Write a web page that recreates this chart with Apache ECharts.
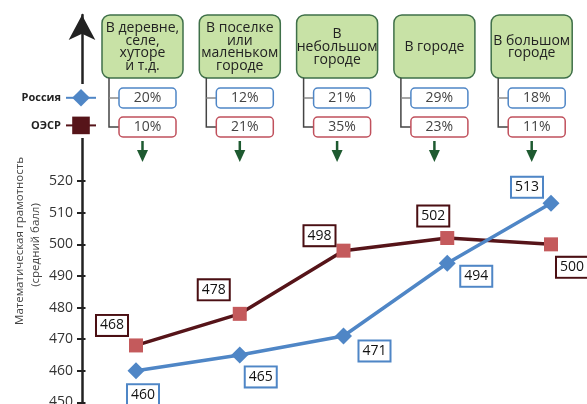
<!DOCTYPE html>
<html><head><meta charset="utf-8">
<script src="https://cdn.jsdelivr.net/npm/echarts@6/dist/echarts.min.js"></script>
<style>html,body{margin:0;padding:0;background:#fff}#c{width:587px;height:404px}</style>
</head><body><div id="c"></div>
<script>
// ---- data ----
const categories = ['В деревне,\nселе,\nхуторе\nи т.д.', 'В поселке\nили\nмаленьком\nгороде', 'В\nнебольшом\nгороде', 'В городе', 'В большом\nгороде'];
const seriesNames = ['Россия', 'ОЭСР'];
const russiaScores = [460, 465, 471, 494, 513];
const oecdScores = [468, 478, 498, 502, 500];
const russiaShares = [20, 12, 21, 29, 18];
const oecdShares = [10, 21, 35, 23, 11];
const yTicks = [450, 460, 470, 480, 490, 500, 510, 520];
const yTitle = ['Математическая грамотность', '(средний балл)'];

// ---- layout / style (not data) ----
const FONT = 'Open Sans';
const BLUE = '#4f86c6', MAROON = '#561419', RED = '#c45a5c';
const ruLabelOffset = [[7, 24], [21, 22], [31, 15], [29, 13], [-24, -16]];
const oeLabelOffset = [[-24, -20], [-26, -24], [-24, -15], [-14, -22], [21, 23]];

const graphics = [];
// gap in axis behind legend
graphics.push({type: 'rect', z: 3, shape: {x: 72, y: 84, width: 20, height: 54}, style: {fill: '#fff'}});
// y axis title
graphics.push({type: 'text', x: 20, y: 241, rotation: Math.PI / 2, z: 5,
  style: {text: yTitle[0], font: '11.5px "' + FONT + '"', fill: '#444', textAlign: 'center', textVerticalAlign: 'middle'}});
graphics.push({type: 'text', x: 36, y: 245, rotation: Math.PI / 2, z: 5,
  style: {text: yTitle[1], font: '11.5px "' + FONT + '"', fill: '#444', textAlign: 'center', textVerticalAlign: 'middle'}});

categories.forEach((cat, i) => {
  const L = 102 + i * 97.3, W = 81, cx = L + W / 2, lx = L + 7, pl = L + 17;
  graphics.push({type: 'rect', z: 5, shape: {x: L, y: 15, width: W, height: 63, r: 8},
    style: {fill: '#c8e2a6', stroke: '#3f7049', lineWidth: 1.5}});
  graphics.push({type: 'text', z: 6, x: cx, y: 47,
    style: {text: cat, font: '14px "' + FONT + '"', fill: '#222', textAlign: 'center', textVerticalAlign: 'middle', lineHeight: 12.8}});
  graphics.push({type: 'polyline', z: 5, shape: {points: [[lx, 78], [lx, 127], [pl, 127]]}, style: {stroke: '#444', lineWidth: 1.5, fill: null}});
  graphics.push({type: 'line', z: 5, shape: {x1: lx, y1: 98, x2: pl, y2: 98}, style: {stroke: '#888', lineWidth: 1.5}});
  graphics.push({type: 'rect', z: 5, shape: {x: pl, y: 88, width: 57, height: 20, r: 4},
    style: {fill: '#fff', stroke: BLUE, lineWidth: 1.5}});
  graphics.push({type: 'text', z: 6, x: pl + 28.5, y: 98.5,
    style: {text: russiaShares[i] + '%', font: '14px "' + FONT + '"', fill: '#444', textAlign: 'center', textVerticalAlign: 'middle'}});
  graphics.push({type: 'rect', z: 5, shape: {x: pl, y: 117, width: 57, height: 20, r: 4},
    style: {fill: '#fff', stroke: '#c0505c', lineWidth: 1.5}});
  graphics.push({type: 'text', z: 6, x: pl + 28.5, y: 127.5,
    style: {text: oecdShares[i] + '%', font: '14px "' + FONT + '"', fill: '#444', textAlign: 'center', textVerticalAlign: 'middle'}});
  // green arrow
  graphics.push({type: 'line', z: 5, shape: {x1: cx, y1: 141, x2: cx, y2: 153}, style: {stroke: '#1e5a30', lineWidth: 2.5}});
  graphics.push({type: 'polygon', z: 5, shape: {points: [[cx - 5.5, 150], [cx + 5.5, 150], [cx, 162]]}, style: {fill: '#1e5a30'}});
});

const labelBase = {show: true, position: 'inside', fontFamily: FONT, fontSize: 14, color: '#111',
  backgroundColor: '#fff', borderWidth: 2, padding: [3, 3, 2, 3], align: 'center', verticalAlign: 'middle'};

const yCommon = {type: 'value', min: 450, max: 572.6, offset: 54, splitLine: {show: false}};

const chart = echarts.init(document.getElementById('c'), null, {renderer: 'canvas'});
chart.setOption({
  animation: false,
  textStyle: {fontFamily: FONT},
  grid: {left: 136, right: 36, top: 15, bottom: 1.7, outerBoundsMode: 'none', containLabel: false},
  legend: {
    orient: 'vertical', right: 485, top: 84, align: 'right', z: 6,
    itemWidth: 30, itemHeight: 22, itemGap: 10,
    textStyle: {fontFamily: FONT, fontSize: 11, fontWeight: 'bold', color: '#222'},
    data: [{name: seriesNames[0]}, {name: seriesNames[1], itemStyle: {color: MAROON}}]
  },
  xAxis: {type: 'category', data: categories, boundaryGap: false, show: false},
  yAxis: [
    Object.assign({}, yCommon, {
      axisLine: {show: true, symbol: ['none', 'arrow'], symbolSize: [20, 25], lineStyle: {color: '#222', width: 2.5}},
      axisTick: {show: true, length: 5, customValues: yTicks, lineStyle: {color: '#222', width: 2}},
      axisLabel: {customValues: yTicks, fontFamily: FONT, fontSize: 14, color: '#333', margin: 9}
    }),
    Object.assign({}, yCommon, {
      position: 'left',
      axisLine: {show: false},
      axisTick: {show: true, inside: true, length: 3.5, customValues: yTicks, lineStyle: {color: '#222', width: 2}},
      axisLabel: {show: false}
    })
  ],
  graphic: graphics,
  series: [
    {
      name: seriesNames[0], type: 'line', z: 3,
      data: russiaScores.map((v, i) => ({value: v, label: {offset: ruLabelOffset[i]}})),
      symbol: 'diamond', symbolSize: 17,
      lineStyle: {color: BLUE, width: 3.5}, itemStyle: {color: BLUE},
      label: Object.assign({}, labelBase, {borderColor: BLUE})
    },
    {
      name: seriesNames[1], type: 'line', z: 2,
      data: oecdScores.map((v, i) => ({value: v, label: {offset: oeLabelOffset[i]}})),
      symbol: 'rect', symbolSize: 14,
      lineStyle: {color: MAROON, width: 3.5}, itemStyle: {color: RED},
      label: Object.assign({}, labelBase, {borderColor: '#4a0f13'})
    }
  ]
});
</script></body></html>
